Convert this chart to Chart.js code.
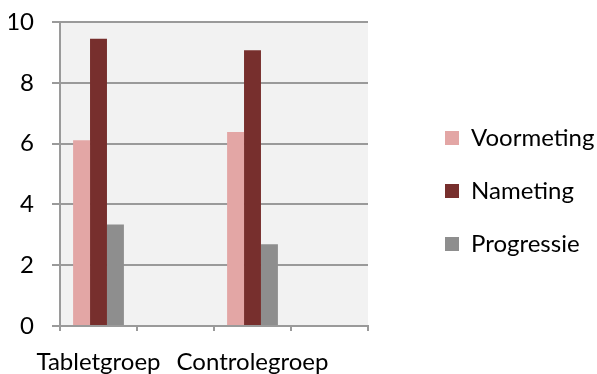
<!DOCTYPE html>
<html>
<head>
<meta charset="utf-8">
<script src="https://cdn.jsdelivr.net/npm/chart.js@4"></script>
<style>
  html, body { margin: 0; padding: 0; background: #ffffff; }
  #wrap { width: 597px; height: 374px; }
</style>
</head>
<body>
<div id="wrap"><canvas id="chart" width="597" height="374"></canvas></div>
<script>
// Groups on the x axis (empty slots keep the spacing between groups)
const categories = ['Tabletgroep', '', 'Controlegroep', ''];
// Scores per measurement
const voormeting = [6.11, null, 6.38, null];
const nameting = [9.45, null, 9.07, null];
const progressie = [3.34, null, 2.69, null];
// Value axis ticks
const yTicks = [0, 2, 4, 6, 8, 10];

const FONT = 'Lato, "Open Sans", sans-serif';
const FONT_SIZE = 24;
const GRID = '#9a9a9a';

// Fill the plot area with a light grey background
const plotBackground = {
  id: 'plotBackground',
  beforeDraw(chart) {
    const { ctx, chartArea: a } = chart;
    ctx.save();
    ctx.fillStyle = '#f2f2f2';
    ctx.fillRect(a.left, a.top, a.right - a.left, a.bottom - a.top);
    ctx.restore();
  }
};

// Nudge the legend block slightly upward after layout
const legendOffset = {
  id: 'legendOffset',
  afterLayout(chart) {
    const lg = chart.legend;
    if (lg) {
      lg.top -= 7;
      lg.bottom -= 7;
    }
  }
};

new Chart(document.getElementById('chart'), {
  type: 'bar',
  data: {
    labels: categories,
    datasets: [
      { label: 'Voormeting', data: voormeting, backgroundColor: '#e3a6a5' },
      { label: 'Nameting', data: nameting, backgroundColor: '#772f2d' },
      { label: 'Progressie', data: progressie, backgroundColor: '#8e8e8e' }
    ]
  },
  options: {
    responsive: false,
    animation: false,
    devicePixelRatio: 1,
    layout: { padding: { top: 22, left: 9, right: 0, bottom: 0 } },
    datasets: {
      bar: { barPercentage: 1, categoryPercentage: 0.66 }
    },
    plugins: {
      tooltip: { enabled: false },
      legend: {
        position: 'right',
        align: 'center',
        maxWidth: 181,
        labels: {
          boxWidth: 14,
          boxHeight: 14,
          padding: 29,
          color: '#000000',
          font: { family: FONT, size: FONT_SIZE }
        }
      }
    },
    scales: {
      x: {
        offset: true,
        afterFit(scale) { scale.height = 48; },
        grid: {
          offset: true,
          drawOnChartArea: false,
          drawTicks: true,
          tickLength: 5,
          color: GRID,
          lineWidth: 2
        },
        border: { display: true, color: GRID, width: 2 },
        ticks: {
          autoSkip: false,
          maxRotation: 0,
          minRotation: 0,
          padding: 17,
          color: '#000000',
          font: { family: FONT, size: FONT_SIZE }
        }
      },
      y: {
        min: 0,
        max: 10,
        afterBuildTicks(scale) {
          scale.ticks = yTicks.map(v => ({ value: v }));
        },
        afterFit(scale) {
          scale.width = 51;
          scale.paddingTop = 0;
          scale.paddingBottom = 0;
        },
        grid: {
          color: GRID,
          lineWidth: 2,
          drawTicks: true,
          tickLength: 8
        },
        border: { display: true, color: GRID, width: 2 },
        ticks: {
          padding: 18,
          color: '#000000',
          font: { family: FONT, size: FONT_SIZE }
        }
      },
      // Blank spacer between the plot and the legend
      gap: {
        type: 'linear',
        position: 'right',
        display: true,
        grid: { display: false },
        border: { display: false },
        ticks: { display: false },
        afterFit(scale) {
          scale.width = 48;
          scale.paddingTop = 0;
          scale.paddingBottom = 0;
        }
      }
    }
  },
  plugins: [plotBackground, legendOffset]
});
</script>
</body>
</html>
